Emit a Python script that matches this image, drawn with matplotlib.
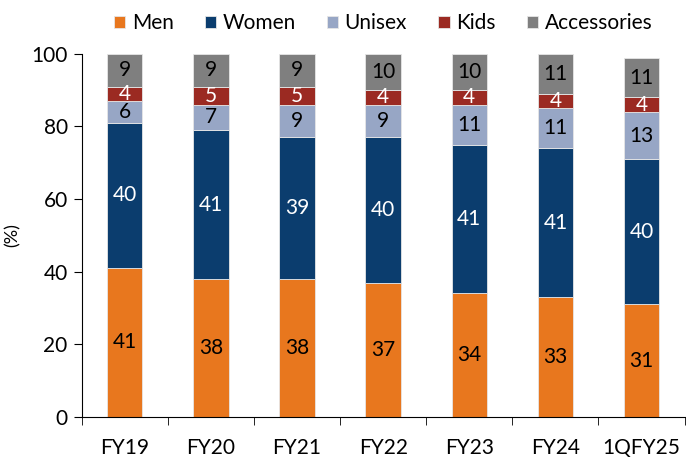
import matplotlib.pyplot as plt
import numpy as np

plt.rcParams["font.family"] = ["Lato", "DejaVu Sans"]

# data
periods = ["FY19", "FY20", "FY21", "FY22", "FY23", "FY24", "1QFY25"]
men = [41, 38, 38, 37, 34, 33, 31]
women = [40, 41, 39, 40, 41, 41, 40]
unisex = [6, 7, 9, 9, 11, 11, 13]
kids = [4, 5, 5, 4, 4, 4, 4]
accessories = [9, 9, 9, 10, 10, 11, 11]

series = [
    ("Men", men, "#E8771E", "black"),
    ("Women", women, "#0B3D6E", "white"),
    ("Unisex", unisex, "#97A6C5", "black"),
    ("Kids", kids, "#9B2A22", "white"),
    ("Accessories", accessories, "#7F7F7F", "black"),
]

fig = plt.figure(figsize=(6.86, 4.61), dpi=100)
ax = fig.add_axes([0.119, 0.096, 0.879, 0.787])

x = np.arange(len(periods))
bottom = np.zeros(len(periods))
for name, vals, color, txt in series:
    vals = np.array(vals, dtype=float)
    ax.bar(x, vals, width=0.41, bottom=bottom, color=color,
           edgecolor="#E6E6E6", linewidth=0.6, label=name)
    for xi, b, v in zip(x, bottom, vals):
        ax.text(xi, b + v / 2, f"{v:.0f}", ha="center", va="center",
                color=txt, fontsize=15)
    bottom += vals

# axes styling
ax.set_xlim(-0.5, len(periods) - 0.5)
ax.set_ylim(0, 100)
ax.set_yticks([0, 20, 40, 60, 80, 100])
ax.set_xticks(x)
ax.set_xticklabels(periods)
ax.set_xticks(np.arange(len(periods) + 1) - 0.5, minor=True)
ax.tick_params(axis="x", which="major", length=0, pad=15, labelsize=15)
ax.tick_params(axis="x", which="minor", length=6, direction="out")
ax.tick_params(axis="y", length=6, direction="out", labelsize=15, pad=4)
for s in ["top", "right"]:
    ax.spines[s].set_visible(False)
ax.set_ylabel("(%)", fontsize=13, labelpad=8)

ax.legend(loc="upper center", bbox_to_anchor=(0.5, 1.135), ncol=5,
          frameon=False, fontsize=15, handlelength=0.55, handleheight=0.55,
          handletextpad=0.3, columnspacing=1.5, borderaxespad=0)

fig.savefig("out.png", dpi=100)
